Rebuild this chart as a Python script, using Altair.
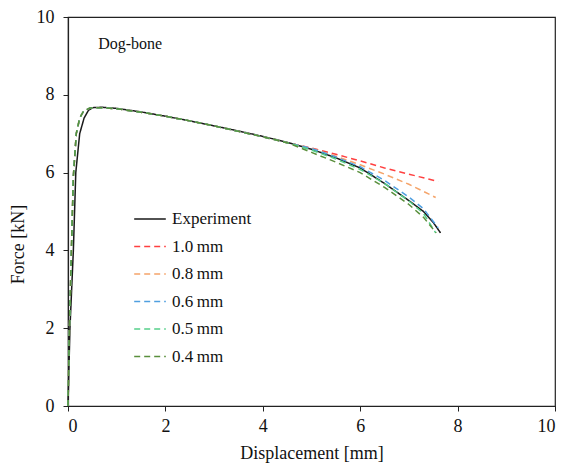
import altair as alt
import pandas as pd

series_names = ["Experiment", "1.0\u2009mm", "0.8\u2009mm", "0.6\u2009mm", "0.5\u2009mm", "0.4\u2009mm"]
series_colors = ["#1a1a1a", "#ff4040", "#f5a46a", "#4f9fe0", "#55d08a", "#5a8f3c"]

x_exp = [0, 0.04, 0.11, 0.16, 0.24, 0.33, 0.42, 0.51, 0.7, 0.9, 1.0, 1.5, 2.0, 2.5, 3.0, 3.5, 4.0, 4.5, 5.0, 5.5, 6.0, 6.5, 7.0, 7.3, 7.5, 7.65]
y_exp = [0, 2.0, 4.0, 6.0, 7.0, 7.4, 7.6, 7.67, 7.68, 7.66, 7.65, 7.56, 7.45, 7.33, 7.2, 7.07, 6.93, 6.78, 6.6, 6.38, 6.12, 5.72, 5.28, 5.0, 4.72, 4.45]

x_sim_common = [0, 0.03, 0.07, 0.11, 0.17, 0.24, 0.32, 0.45, 0.7, 1.0, 1.5, 2.0, 2.5, 3.0, 3.5, 4.0, 4.5]
y_sim_common = [0, 2.0, 4.0, 5.9, 7.0, 7.4, 7.58, 7.66, 7.67, 7.64, 7.55, 7.45, 7.33, 7.2, 7.06, 6.92, 6.77]

x_10 = [5.0, 5.5, 6.0, 6.5, 7.0, 7.6]
y_10 = [6.63, 6.47, 6.3, 6.12, 5.96, 5.77]
x_08 = [5.0, 5.5, 6.0, 6.5, 7.0, 7.55]
y_08 = [6.62, 6.42, 6.2, 5.96, 5.7, 5.36]
x_06 = [5.0, 5.5, 6.0, 6.5, 7.0, 7.3, 7.6]
y_06 = [6.62, 6.4, 6.15, 5.8, 5.37, 5.07, 4.58]
x_05 = [5.0, 5.5, 6.0, 6.5, 7.0, 7.3, 7.55]
y_05 = [6.58, 6.35, 6.08, 5.72, 5.27, 4.95, 4.45]
x_04 = [5.0, 5.5, 6.0, 6.5, 7.0, 7.3, 7.56]
y_04 = [6.52, 6.27, 6.0, 5.62, 5.18, 4.85, 4.45]

rows = []
for i, (xv, yv) in enumerate(zip(x_exp, y_exp)):
    rows.append({"series": series_names[0], "x": xv, "y": yv, "o": i})
tails = [(x_10, y_10), (x_08, y_08), (x_06, y_06), (x_05, y_05), (x_04, y_04)]
for name, (xt, yt) in zip(series_names[1:], tails):
    xs = x_sim_common + xt
    ys = y_sim_common + yt
    for i, (xv, yv) in enumerate(zip(xs, ys)):
        rows.append({"series": name, "x": xv, "y": yv, "o": i})
df = pd.DataFrame(rows)

font = "Times New Roman"

color_scale = alt.Scale(domain=series_names, range=series_colors)
dash_scale = alt.Scale(domain=series_names, range=[[1, 0], [6, 4], [6, 4], [6, 4], [6, 4], [6, 4]])

xenc = alt.X("x:Q", scale=alt.Scale(domain=[0, 10], nice=False),
             axis=alt.Axis(values=[0, 2, 4, 6, 8, 10], title="Displacement [mm]", grid=False,
                           tickSize=5, labelPadding=6, titleBaseline="alphabetic", titleY=52))
yenc = alt.Y("y:Q", scale=alt.Scale(domain=[0, 10], nice=False),
             axis=alt.Axis(values=[0, 2, 4, 6, 8, 10], title="Force [kN]", grid=False,
                           tickSize=5, labelPadding=9, titleBaseline="middle", titleX=-50, titleY=227))

legend = alt.Legend(title=None, orient="none", legendX=65, legendY=185,
                    symbolType="stroke", symbolSize=1000, symbolStrokeWidth=1.6,
                    labelFont=font, labelFontSize=17, labelColor="#111",
                    rowPadding=2.5, labelOffset=5)

lines = alt.Chart(df).mark_line(strokeWidth=1.5).encode(
    x=xenc, y=yenc,
    color=alt.Color("series:N", scale=color_scale, legend=legend, sort=series_names),
    strokeDash=alt.StrokeDash("series:N", scale=dash_scale, legend=legend, sort=series_names),
    order="o:Q",
)

note_df = pd.DataFrame({"x": [0.62], "y": [9.3], "t": ["Dog-bone"]})
note = alt.Chart(note_df).mark_text(align="left", baseline="middle", font=font, fontSize=16, color="#111").encode(
    x="x:Q", y="y:Q", text="t:N")

chart = alt.layer(lines, note).properties(
    width=487, height=389,
    autosize=alt.AutoSizeParams(type="none"),
    padding={"left": 60, "top": 9, "right": 8, "bottom": 59},
).configure_view(stroke="#222", strokeWidth=1.2).configure_axis(
    labelFont=font, titleFont=font, labelFontSize=18, titleFontSize=18,
    titleFontWeight="normal", labelColor="#111", titleColor="#111",
    domainColor="#222", tickColor="#222", domainWidth=1.2,
)

chart.save("out.html", embed_options={"renderer": "svg", "actions": False})
